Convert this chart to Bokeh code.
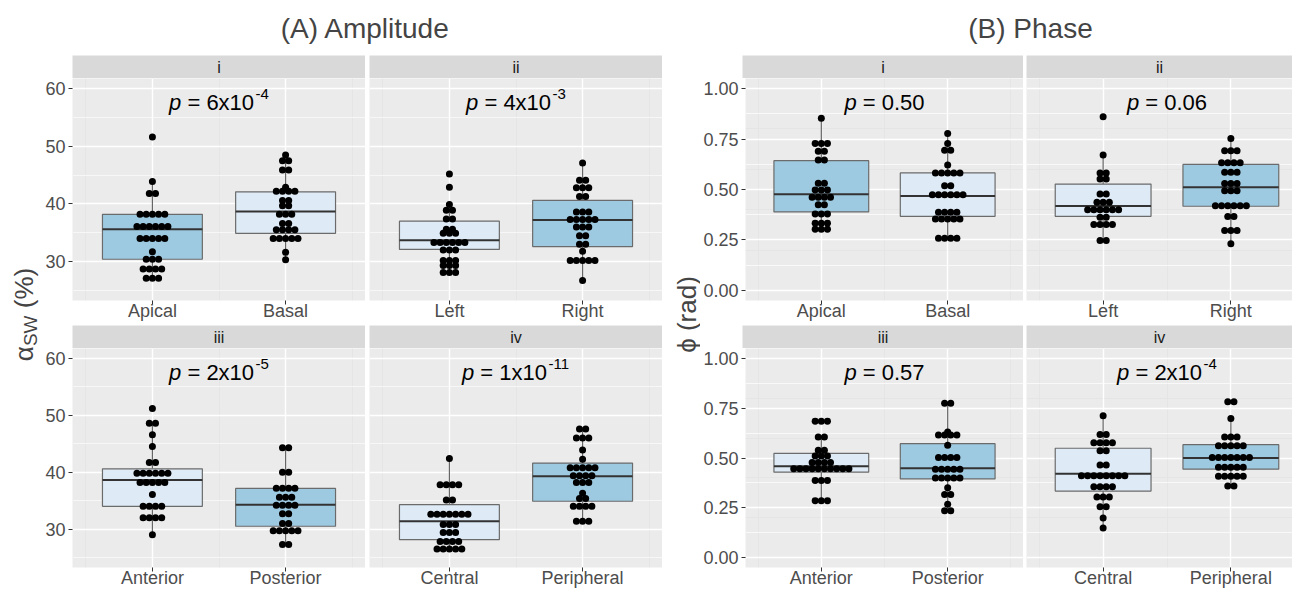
import math
from bokeh.plotting import figure
from bokeh.layouts import column, row
from bokeh.models import Range1d, LinearAxis, Grid, FixedTicker, Label, NumeralTickFormatter
from bokeh.embed import file_html
from bokeh.resources import INLINE

FONT = "Liberation Sans"

# ---------------- data ----------------
TITLES = ["(A) Amplitude", "(B) Phase"]
STRIPS = ["i", "ii", "iii", "iv"]
CATS = [["Apical", "Basal"], ["Left", "Right"], ["Anterior", "Posterior"], ["Central", "Peripheral"]]
YTITLE_A = ["α", "SW", "(%)"]
YTITLE_B = "ϕ (rad)"

AMP_YTICKS = [30, 40, 50, 60]
AMP_YMINOR = [25, 35, 45, 55]
PHS_YTICKS = [0.0, 0.25, 0.5, 0.75, 1.0]
PHS_YMINOR = [0.125, 0.375, 0.625, 0.875]

AMP_P_BASE = ["6x10", "4x10", "2x10", "1x10"]
AMP_P_SUP = ["-4", "-3", "-5", "-11"]
PHS_P_BASE = ["0.50", "0.06", "0.57", "2x10"]
PHS_P_SUP = ["", "", "", "-4"]

amp_apical = [51.6, 43.9, 41.8, 41.8, 38.2, 38.2, 38.2, 38.2, 38.2, 36.1, 36.1, 36.1, 36.1, 36.1, 36.1,
              34.0, 34.0, 34.0, 34.0, 34.0, 31.7, 30.4, 30.4, 30.4, 28.7, 28.7, 28.7, 28.7, 27.1, 27.1, 27.1]
amp_basal = [48.5, 47.5, 47.5, 45.9, 45.9, 42.9, 42.2, 42.2, 42.2, 42.2, 40.6, 40.6, 39.7, 39.7,
             38.2, 38.2, 38.2, 36.6, 36.6, 35.5, 35.5, 35.5, 35.5, 34.0, 34.0, 34.0, 34.0, 34.0, 31.6, 30.3]
amp_left = [45.2, 42.9, 39.9, 38.9, 38.9, 37.4, 37.4, 35.6, 35.6, 34.9, 34.9, 34.9, 33.3, 33.3, 33.3,
            33.3, 33.3, 33.3, 32.0, 32.0, 32.0, 30.2, 30.2, 30.2, 29.3, 29.3, 29.3, 28.1, 28.1, 28.1]
amp_right = [47.1, 44.1, 44.1, 42.8, 42.8, 42.8, 41.3, 41.3, 38.6, 38.6, 38.6, 37.3, 37.3, 37.3, 37.3,
             37.3, 36.0, 36.0, 36.0, 34.5, 34.5, 33.0, 33.0, 31.8, 30.2, 30.2, 30.2, 30.2, 30.2, 26.7]
amp_anterior = [51.2, 48.6, 48.6, 46.6, 44.5, 41.7, 41.7, 39.8, 39.8, 39.8, 39.8, 39.8, 39.8,
                38.2, 38.2, 38.2, 38.2, 38.2, 36.1, 34.0, 34.0, 34.0, 34.0, 32.0, 32.0, 32.0, 32.0, 29.0]
amp_posterior = [44.3, 44.3, 40.0, 40.0, 37.2, 37.2, 37.2, 37.2, 35.6, 35.6, 35.6, 34.2, 34.2, 34.2,
                 34.2, 32.7, 32.7, 31.0, 31.0, 29.7, 29.7, 29.7, 29.7, 29.7, 27.3, 27.3]
amp_central = [42.4, 37.8, 37.8, 37.8, 37.8, 35.1, 35.1, 32.6, 32.6, 32.6, 32.6, 32.6, 32.6, 32.6,
               30.8, 30.8, 30.8, 29.4, 29.4, 29.4, 27.8, 27.8, 27.8, 27.8, 26.5, 26.5, 26.5, 26.5, 26.5]
amp_peripheral = [47.6, 47.6, 46.0, 46.0, 46.0, 43.9, 42.3, 40.8, 40.8, 40.8, 40.8, 40.8, 39.4, 39.4,
                  39.4, 39.4, 38.2, 38.2, 38.2, 36.3, 35.4, 35.4, 34.0, 34.0, 34.0, 34.0, 31.4, 31.4, 31.4]

phs_apical = [0.853, 0.728, 0.728, 0.728, 0.689, 0.689, 0.646, 0.646, 0.531, 0.531, 0.498, 0.498, 0.498,
              0.461, 0.461, 0.461, 0.461, 0.425, 0.425, 0.379, 0.379, 0.379, 0.333, 0.333, 0.333,
              0.303, 0.303, 0.303]
phs_basal = [0.778, 0.728, 0.695, 0.695, 0.621, 0.582, 0.582, 0.582, 0.582, 0.582, 0.519, 0.519,
             0.474, 0.474, 0.474, 0.474, 0.474, 0.474, 0.387, 0.387, 0.387, 0.387, 0.354, 0.354, 0.354,
             0.354, 0.354, 0.259, 0.259, 0.259, 0.259]
phs_left = [0.860, 0.671, 0.582, 0.582, 0.552, 0.552, 0.478, 0.478, 0.437, 0.437, 0.437, 0.400, 0.400,
            0.400, 0.400, 0.400, 0.400, 0.362, 0.362, 0.326, 0.326, 0.326, 0.326, 0.247, 0.247]
phs_right = [0.753, 0.692, 0.692, 0.692, 0.633, 0.633, 0.633, 0.633, 0.585, 0.585, 0.585, 0.530, 0.530,
             0.530, 0.494, 0.494, 0.494, 0.420, 0.420, 0.420, 0.420, 0.420, 0.420, 0.366, 0.366,
             0.297, 0.297, 0.297, 0.231]
phs_anterior = [0.684, 0.684, 0.684, 0.605, 0.605, 0.539, 0.539, 0.510, 0.510, 0.510, 0.477, 0.477, 0.477,
                0.477, 0.446, 0.446, 0.446, 0.446, 0.446, 0.446, 0.446, 0.446, 0.446, 0.446,
                0.387, 0.387, 0.387, 0.285, 0.285, 0.285]
phs_posterior = [0.775, 0.775, 0.630, 0.615, 0.615, 0.615, 0.615, 0.564, 0.503, 0.503, 0.503, 0.503,
                 0.444, 0.444, 0.444, 0.444, 0.444, 0.400, 0.400, 0.400, 0.400, 0.400, 0.350, 0.317, 0.317,
                 0.268, 0.235, 0.235]
phs_central = [0.712, 0.618, 0.618, 0.576, 0.576, 0.576, 0.576, 0.536, 0.536, 0.465, 0.465, 0.411, 0.411,
               0.411, 0.411, 0.411, 0.411, 0.411, 0.411, 0.355, 0.355, 0.355, 0.355, 0.304, 0.304, 0.304,
               0.255, 0.255, 0.199, 0.148]
phs_peripheral = [0.783, 0.783, 0.699, 0.605, 0.605, 0.605, 0.561, 0.561, 0.561, 0.561, 0.561, 0.502,
                  0.502, 0.502, 0.502, 0.502, 0.502, 0.502, 0.454, 0.454, 0.454, 0.454, 0.454,
                  0.408, 0.408, 0.408, 0.408, 0.408, 0.359, 0.359]

AMP_DATA = [[amp_apical, amp_basal], [amp_left, amp_right], [amp_anterior, amp_posterior], [amp_central, amp_peripheral]]
PHS_DATA = [[phs_apical, phs_basal], [phs_left, phs_right], [phs_anterior, phs_posterior], [phs_central, phs_peripheral]]

# box statistics: lower hinge, median, upper hinge, whisker ends
AMP_Q1 = [[30.4, 34.9], [32.1, 32.6], [34.0, 30.5], [28.15, 34.9]]
AMP_MED = [[35.6, 38.7], [33.7, 37.2], [38.65, 34.3], [31.4, 39.3]]
AMP_Q3 = [[38.2, 42.1], [37.0, 40.6], [40.6, 37.15], [34.3, 41.6]]
AMP_LO = [[27.1, 30.3], [28.1, 26.7], [29.0, 27.3], [26.5, 31.4]]
AMP_HI = [[43.9, 48.5], [39.9, 47.1], [48.6, 44.3], [42.4, 47.6]]

PHS_Q1 = [[0.389, 0.367], [0.367, 0.417], [0.429, 0.395], [0.334, 0.444]]
PHS_MED = [[0.476, 0.468], [0.418, 0.511], [0.459, 0.449], [0.421, 0.500]]
PHS_Q3 = [[0.643, 0.582], [0.527, 0.624], [0.523, 0.572], [0.549, 0.567]]
PHS_LO = [[0.303, 0.259], [0.247, 0.231], [0.285, 0.235], [0.148, 0.359]]
PHS_HI = [[0.853, 0.778], [0.671, 0.753], [0.605, 0.775], [0.712, 0.699]]

# ---------------- styling ----------------
DARK = "#9ecae1"
LIGHT = "#deebf7"
FILLS = [[DARK, LIGHT], [LIGHT, DARK], [LIGHT, DARK], [LIGHT, DARK]]
PANEL_BG = "#ebebeb"
STRIP_BG = "#d9d9d9"
DOT_SIZE = 7.0
DOT_STEP = 6.2
TICK_FS = "18px"

ARIAL_W = {'p': 0.556, ' ': 0.278, '=': 0.584, 'x': 0.5, '.': 0.278, '-': 0.333}
for d in "0123456789":
    ARIAL_W[d] = 0.556


def tw(s, size):
    return sum(ARIAL_W.get(c, 0.556) for c in s) * size


def strip_fig(width, bl, label):
    p = figure(width=width, height=23, x_range=Range1d(0, 1), y_range=Range1d(0, 1),
               x_axis_location=None, y_axis_location=None, toolbar_location=None,
               output_backend="svg", min_border_left=bl, min_border_right=0,
               min_border_top=0, min_border_bottom=0, background_fill_color=STRIP_BG,
               border_fill_color="white", outline_line_color=None)
    p.grid.visible = False
    p.add_layout(Label(x=0.5, y=0.5, text=label, text_align="center", text_baseline="middle",
                       text_font=FONT, text_font_size="16px", text_color="#1a1a1a"))
    return p


def panel_fig(width, height, bl, bb, x_end, yr, yticks, yminor, phase, show_y, cats, pair,
              q1, med, q3, lo, hi, fills, pbase, psup, py, ppu):
    p = figure(width=width, height=height, x_range=Range1d(0.4, x_end), y_range=Range1d(*yr),
               x_axis_location=None, y_axis_location=None, toolbar_location=None,
               output_backend="svg", min_border_left=bl, min_border_right=0,
               min_border_top=0, min_border_bottom=bb, background_fill_color=PANEL_BG,
               border_fill_color="white", outline_line_color=None)
    xt = FixedTicker(ticks=[1, 2])
    xa = LinearAxis(ticker=xt, major_label_overrides={1: cats[0], 2: cats[1]},
                    major_tick_out=4, major_tick_in=0, minor_tick_out=0, minor_tick_in=0,
                    major_label_standoff=-4, axis_line_color=None, major_tick_line_color="#333333",
                    major_label_text_font=FONT, major_label_text_font_size=TICK_FS,
                    major_label_text_color="#4d4d4d")
    p.add_layout(xa, "below")
    yt = FixedTicker(ticks=yticks, minor_ticks=yminor)
    if show_y:
        ya = LinearAxis(ticker=FixedTicker(ticks=yticks), major_tick_out=4, major_tick_in=0,
                        minor_tick_out=0, minor_tick_in=0, major_label_standoff=3,
                        axis_line_color=None, major_tick_line_color="#333333",
                        major_label_text_font=FONT, major_label_text_font_size=TICK_FS,
                        major_label_text_color="#4d4d4d")
        if phase:
            ya.formatter = NumeralTickFormatter(format="0.00")
        p.add_layout(ya, "left")
    p.add_layout(Grid(dimension=0, ticker=xt, grid_line_color="white", grid_line_width=1.4))
    p.add_layout(Grid(dimension=1, ticker=yt, grid_line_color="white", grid_line_width=1.4,
                      minor_grid_line_color="white", minor_grid_line_width=0.7))

    xs = [1, 2]
    p.segment(x0=xs + xs, y0=q3 + q1, x1=xs + xs, y1=hi + lo, line_color="#666666", line_width=1.2)
    p.vbar(x=xs, width=0.75, bottom=q1, top=q3, fill_color=fills, line_color="#6b6b6b", line_width=1.2)
    p.segment(x0=[x - 0.375 for x in xs], y0=med, x1=[x + 0.375 for x in xs], y1=med,
              line_color="#333333", line_width=2)
    dx, dy = [], []
    for k, vals in enumerate(pair):
        counts = {}
        order = []
        for v in vals:
            if v not in counts:
                counts[v] = 0
                order.append(v)
            counts[v] += 1
        for v in order:
            n = counts[v]
            for i in range(n):
                dx.append(k + 1 + (i - (n - 1) / 2) * DOT_STEP / ppu)
                dy.append(v)
    p.scatter(dx, dy, size=DOT_SIZE, fill_color="black", line_color=None)

    main, sup_s = 22, 15
    w1 = tw("p", main)
    wsp = tw(" ", main)
    w2 = tw("= " + pbase, main)
    w3 = tw(psup, sup_s) if psup else 0
    total = w1 + wsp + w2 + (1.5 + w3 if psup else 0)
    x0 = -total / 2
    common = dict(x=1.5, y=py, text_font=FONT, text_color="black", text_baseline="middle",
                  text_align="left")
    p.add_layout(Label(text="p", x_offset=x0, text_font_size=f"{main}px", text_font_style="italic", **common))
    p.add_layout(Label(text="= " + pbase, x_offset=x0 + w1 + wsp, text_font_size=f"{main}px", **common))
    if psup:
        p.add_layout(Label(text=psup, x_offset=x0 + w1 + wsp + w2 + 1.5, y_offset=8,
                           text_font_size=f"{sup_s}px", **common))
    return p


# ---------------- layout (page pixels) ----------------
TITLE_H = 55
STRIP_H = 23
TOP_H = 222 + 25
BOT_H = 222 + 20
YLAB_A_W = 42
YLAB_B_W = 38
A_W = [323, 297]; A_BL = [30, 4]; A_FRAME = 293
B_W = [323, 269]; B_BL = [42, 3]; B_FRAME = 281
A_PPU = A_FRAME / 2.2
B_PPU = B_FRAME / 2.2


def build_group(data, Q1, MED, Q3, LO, HI, pbase, psup, yr, yticks, yminor, phase, widths, bls, ppu, py):
    rows = []
    for r in range(2):
        strips, panels = [], []
        for c in range(2):
            idx = r * 2 + c
            frame_w = widths[c] - bls[c]
            x_end = 0.4 + frame_w / ppu
            h = TOP_H if r == 0 else BOT_H
            strips.append(strip_fig(widths[c], bls[c], STRIPS[idx]))
            panels.append(panel_fig(widths[c], h, bls[c], h - 222, x_end, yr,
                                    yticks, yminor, phase, c == 0, CATS[idx], data[idx],
                                    Q1[idx], MED[idx], Q3[idx], LO[idx], HI[idx], FILLS[idx],
                                    pbase[idx], psup[idx], py, ppu))
        rows.append(row(*strips))
        rows.append(row(*panels))
    return column(*rows)


colA = build_group(AMP_DATA, AMP_Q1, AMP_MED, AMP_Q3, AMP_LO, AMP_HI, AMP_P_BASE, AMP_P_SUP,
                   (23.25, 61.75), AMP_YTICKS, AMP_YMINOR, False, A_W, A_BL, A_PPU, 57.6)
colB = build_group(PHS_DATA, PHS_Q1, PHS_MED, PHS_Q3, PHS_LO, PHS_HI, PHS_P_BASE, PHS_P_SUP,
                   (-0.05, 1.05), PHS_YTICKS, PHS_YMINOR, True, B_W, B_BL, B_PPU, 0.931)

GH = 2 * STRIP_H + TOP_H + BOT_H


def blank(w, h):
    p = figure(width=w, height=h, x_range=Range1d(0, w), y_range=Range1d(0, h),
               x_axis_location=None, y_axis_location=None, toolbar_location=None,
               output_backend="svg", min_border=0, outline_line_color=None,
               background_fill_color="white", border_fill_color="white")
    p.grid.visible = False
    return p


# y titles: data y measured from the bottom of the page
PAGE_H = TITLE_H + GH
YC = PAGE_H - 314
LA = 26
WS = 19
ylabA = blank(YLAB_A_W, GH)
lenA = (0.58 + 0.278 + 1.555) * LA + 1.611 * WS
sA = YC - lenA / 2
ylabA.add_layout(Label(x=23, y=sA, text=YTITLE_A[0], angle=math.pi / 2, text_font=FONT,
                       text_font_size=f"{LA}px", text_align="left", text_baseline="middle"))
ylabA.add_layout(Label(x=30, y=sA + 0.58 * LA, text=YTITLE_A[1], angle=math.pi / 2, text_font=FONT,
                       text_font_size=f"{WS}px", text_align="left", text_baseline="middle"))
ylabA.add_layout(Label(x=23, y=sA + 0.58 * LA + 1.611 * WS + 0.278 * LA, text=YTITLE_A[2],
                       angle=math.pi / 2, text_font=FONT, text_font_size=f"{LA}px",
                       text_align="left", text_baseline="middle"))

ylabB = blank(YLAB_B_W, GH)
ylabB.add_layout(Label(x=24, y=YC, text=YTITLE_B, angle=math.pi / 2, text_font=FONT,
                       text_font_size=f"{LA}px", text_align="center", text_baseline="middle"))

TOTAL_W = YLAB_A_W + sum(A_W) + YLAB_B_W + sum(B_W)
title = blank(TOTAL_W, TITLE_H)
title.add_layout(Label(x=365, y=TITLE_H - 27.5, text=TITLES[0], text_font=FONT,
                       text_font_size="28px", text_align="center", text_baseline="middle"))
title.add_layout(Label(x=1030, y=TITLE_H - 27.5, text=TITLES[1],
                       text_font=FONT, text_font_size="28px", text_align="center",
                       text_baseline="middle"))

root = column(title, row(ylabA, colA, ylabB, colB))

open("out.html", "w").write(file_html(root, INLINE))
